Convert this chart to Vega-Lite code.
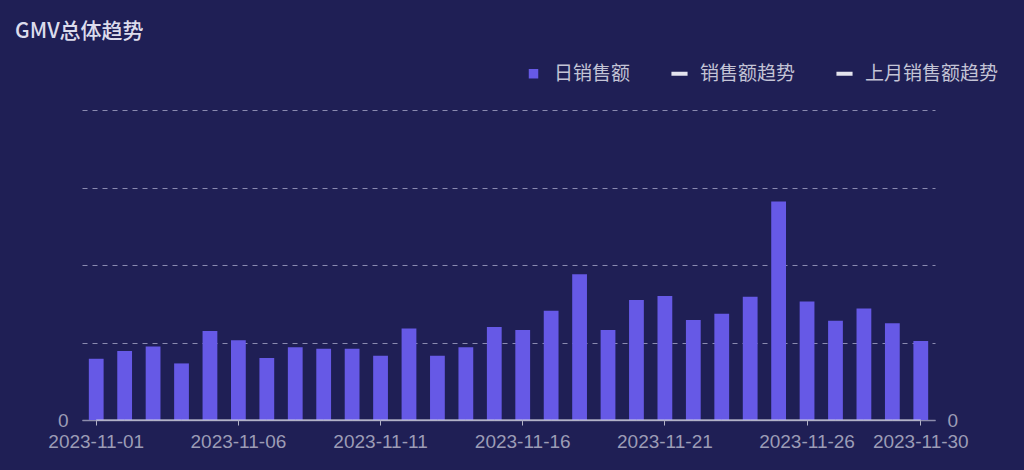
{
  "$schema": "https://vega.github.io/schema/vega-lite/v6.json",
  "autosize": {"type": "none"},
  "width": 853,
  "height": 310,
  "padding": {"left": 82, "top": 110, "right": 89, "bottom": 50},
  "background": "#1f1f55",
  "title": {
    "text": "GMV总体趋势",
    "anchor": "start",
    "frame": "group",
    "dx": -67,
    "offset": 22,
    "font": "Noto Sans CJK SC",
    "fontSize": 21,
    "fontWeight": 500,
    "color": "#dcdcec"
  },
  "data": {
    "values": [
      {"date": "2023-11-01", "日销售额": 7900, "销售额趋势": 0, "上月销售额趋势": 0},
      {"date": "2023-11-02", "日销售额": 8900, "销售额趋势": 0, "上月销售额趋势": 0},
      {"date": "2023-11-03", "日销售额": 9500, "销售额趋势": 0, "上月销售额趋势": 0},
      {"date": "2023-11-04", "日销售额": 7300, "销售额趋势": 0, "上月销售额趋势": 0},
      {"date": "2023-11-05", "日销售额": 11500, "销售额趋势": 0, "上月销售额趋势": 0},
      {"date": "2023-11-06", "日销售额": 10300, "销售额趋势": 0, "上月销售额趋势": 0},
      {"date": "2023-11-07", "日销售额": 8000, "销售额趋势": 0, "上月销售额趋势": 0},
      {"date": "2023-11-08", "日销售额": 9400, "销售额趋势": 0, "上月销售额趋势": 0},
      {"date": "2023-11-09", "日销售额": 9200, "销售额趋势": 0, "上月销售额趋势": 0},
      {"date": "2023-11-10", "日销售额": 9200, "销售额趋势": 0, "上月销售额趋势": 0},
      {"date": "2023-11-11", "日销售额": 8300, "销售额趋势": 0, "上月销售额趋势": 0},
      {"date": "2023-11-12", "日销售额": 11800, "销售额趋势": 0, "上月销售额趋势": 0},
      {"date": "2023-11-13", "日销售额": 8300, "销售额趋势": 0, "上月销售额趋势": 0},
      {"date": "2023-11-14", "日销售额": 9400, "销售额趋势": 0, "上月销售额趋势": 0},
      {"date": "2023-11-15", "日销售额": 12000, "销售额趋势": 0, "上月销售额趋势": 0},
      {"date": "2023-11-16", "日销售额": 11600, "销售额趋势": 0, "上月销售额趋势": 0},
      {"date": "2023-11-17", "日销售额": 14100, "销售额趋势": 0, "上月销售额趋势": 0},
      {"date": "2023-11-18", "日销售额": 18800, "销售额趋势": 0, "上月销售额趋势": 0},
      {"date": "2023-11-19", "日销售额": 11600, "销售额趋势": 0, "上月销售额趋势": 0},
      {"date": "2023-11-20", "日销售额": 15500, "销售额趋势": 0, "上月销售额趋势": 0},
      {"date": "2023-11-21", "日销售额": 16000, "销售额趋势": 0, "上月销售额趋势": 0},
      {"date": "2023-11-22", "日销售额": 12900, "销售额趋势": 0, "上月销售额趋势": 0},
      {"date": "2023-11-23", "日销售额": 13700, "销售额趋势": 0, "上月销售额趋势": 0},
      {"date": "2023-11-24", "日销售额": 15900, "销售额趋势": 0, "上月销售额趋势": 0},
      {"date": "2023-11-25", "日销售额": 28200, "销售额趋势": 0, "上月销售额趋势": 0},
      {"date": "2023-11-26", "日销售额": 15300, "销售额趋势": 0, "上月销售额趋势": 0},
      {"date": "2023-11-27", "日销售额": 12800, "销售额趋势": 0, "上月销售额趋势": 0},
      {"date": "2023-11-28", "日销售额": 14400, "销售额趋势": 0, "上月销售额趋势": 0},
      {"date": "2023-11-29", "日销售额": 12500, "销售额趋势": 0, "上月销售额趋势": 0},
      {"date": "2023-11-30", "日销售额": 10200, "销售额趋势": 0, "上月销售额趋势": 0}
    ]
  },
  "encoding": {
    "x": {
      "field": "date",
      "type": "ordinal",
      "title": null,
      "scale": {"paddingInner": 0.48, "paddingOuter": 0.24},
      "axis": {
        "values": ["2023-11-01", "2023-11-06", "2023-11-11", "2023-11-16", "2023-11-21", "2023-11-26", "2023-11-30"],
        "labelAngle": 0,
        "labelOverlap": false,
        "labelFont": "Liberation Sans",
        "labelFontSize": 19,
        "labelColor": "#9c9cb6",
        "labelPadding": 7,
        "tickColor": "#b4b4c8",
        "tickSize": 5,
        "domainColor": "#8c8cac",
        "domainWidth": 1.5
      }
    }
  },
  "layer": [
    {
      "transform": [{"fold": ["日销售额"], "as": ["series", "value"]}],
      "mark": {"type": "bar"},
      "encoding": {
        "y": {
          "field": "value",
          "type": "quantitative",
          "title": null,
          "scale": {"domain": [0, 40000]},
          "axis": {
            "values": [0, 10000, 20000, 30000, 40000],
            "labelExpr": "datum.value == 0 ? '0' : ''",
            "labelFont": "Liberation Sans",
            "labelFontSize": 19,
            "labelColor": "#9c9cb6",
            "labelPadding": 14,
            "ticks": false,
            "domain": false,
            "grid": true,
            "gridColor": "#8a8ab0",
            "gridDash": [5, 5],
            "gridWidth": 1
          }
        },
        "color": {
          "field": "series",
          "type": "nominal",
          "scale": {
            "domain": ["日销售额", "销售额趋势", "上月销售额趋势"],
            "range": ["#6659e6", "#e4e4ee", "#e4e4ee"]
          },
          "legend": {
            "orient": "none",
            "direction": "horizontal",
            "legendX": 442,
            "legendY": -46,
            "title": null,
            "labelFont": "Noto Sans CJK SC",
            "labelFontSize": 19,
            "labelColor": "#c4c4d6",
            "labelOffset": 11,
            "columnPadding": 32,
            "symbolSize": 140,
            "encode": {
              "symbols": {
                "update": {
                  "shape": {"signal": "datum.value == '日销售额' ? 'square' : 'stroke'"},
                  "size": {"signal": "datum.value == '日销售额' ? 90 : 260"},
                  "fill": {"signal": "datum.value == '日销售额' ? '#6659e6' : '#e4e4ee'"},
                  "stroke": {"signal": "datum.value == '日销售额' ? '#6659e6' : '#e4e4ee'"},
                  "strokeWidth": {"signal": "datum.value == '日销售额' ? 0 : 4"},
                  "opacity": {"value": 1}
                }
              }
            }
          }
        }
      }
    },
    {
      "transform": [{"fold": ["销售额趋势", "上月销售额趋势"], "as": ["series", "value"]}],
      "mark": {"type": "line", "strokeWidth": 1, "opacity": 0.5},
      "encoding": {
        "y": {
          "field": "value",
          "type": "quantitative",
          "title": null,
          "scale": {"domain": [0, 1]},
          "axis": {
            "orient": "right",
            "values": [0],
            "labelFont": "Liberation Sans",
            "labelFontSize": 19,
            "labelColor": "#9c9cb6",
            "labelPadding": 12,
            "ticks": false,
            "domain": false,
            "grid": false
          }
        },
        "color": {"field": "series", "type": "nominal"}
      }
    }
  ],
  "resolve": {"scale": {"y": "independent"}},
  "config": {
    "view": {"stroke": null}
  }
}
